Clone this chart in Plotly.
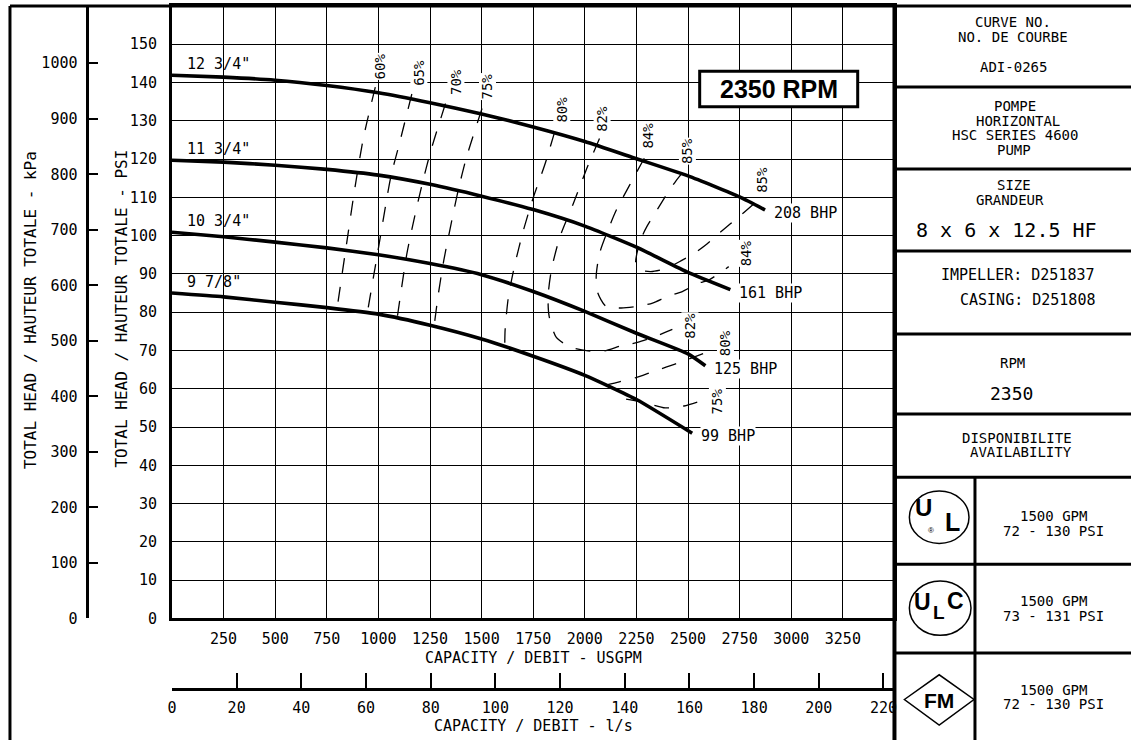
import plotly.graph_objects as go

W, H = 1133, 749
MONO = "DejaVu Sans Mono"
BOLD = "Liberation Sans"

# ---------------- data ----------------
impeller_names = ['12 3/4"', '11 3/4"', '10 3/4"', '9 7/8"']
bhp_labels = ['208 BHP', '161 BHP', '125 BHP', '99 BHP']

gpm_1275 = [0, 250, 500, 750, 1000, 1250, 1500, 1750, 2000, 2250, 2500, 2750, 2873]
psi_1275 = [141.9, 141.4, 140.6, 139.2, 137.3, 134.7, 131.8, 128.4, 124.6, 120.1, 115.6, 110.1, 106.7]

gpm_1175 = [0, 250, 500, 750, 1000, 1250, 1500, 1750, 2000, 2250, 2500, 2705]
psi_1175 = [119.7, 119.2, 118.4, 117.3, 115.8, 113.4, 110.3, 106.8, 102.5, 97.0, 90.4, 85.9]

gpm_1075 = [0, 250, 500, 750, 1000, 1250, 1500, 1750, 2000, 2250, 2500, 2584]
psi_1075 = [100.9, 99.7, 98.3, 96.8, 95.0, 92.7, 89.8, 85.4, 80.2, 74.5, 69.1, 66.0]

gpm_0978 = [0, 250, 500, 750, 1000, 1250, 1500, 1750, 2000, 2250, 2520]
psi_0978 = [85.0, 84.0, 82.6, 81.2, 79.5, 76.6, 73.0, 68.5, 63.5, 57.2, 48.4]

# efficiency iso-lines (GPM, PSI)
eff60_gpm = [985, 927, 884, 847, 799]
eff60_psi = [138.8, 125.4, 111.7, 98.3, 80.7]
eff65_gpm = [1162, 1101, 1060, 1001, 945]
eff65_psi = [137.0, 123.9, 115.3, 97.0, 79.4]
eff70_gpm = [1325, 1253, 1210, 1173, 1138, 1090]
eff70_psi = [134.5, 122.0, 113.0, 104.3, 95.3, 78.1]
eff75_gpm = [1502, 1426, 1386, 1349, 1317, 1290, 1266]
eff75_psi = [133.2, 120.3, 111.7, 102.2, 93.6, 84.6, 74.7]
eff75r_gpm = [2200, 2290, 2390, 2480, 2560]
eff75r_psi = [57.3, 56.4, 55.0, 55.5, 56.8]
eff80_gpm = [1854, 1806, 1750, 1702, 1662, 1630, 1614, 1612]
eff80_psi = [127.1, 118.5, 109.9, 101.3, 92.7, 84.1, 75.5, 71.0]
eff80r_gpm = [2105, 2167, 2247, 2330, 2440, 2608]
eff80r_psi = [61.0, 61.8, 62.9, 64.5, 66.5, 69.9]
eff82_gpm = [2071, 2007, 1943, 1879, 1838, 1822, 1827, 1862, 1935, 2015, 2095, 2175, 2255, 2328, 2424]
eff82_psi = [125.4, 117.2, 108.2, 99.6, 91.0, 84.1, 79.0, 73.4, 70.8, 69.9, 69.9, 71.2, 72.1, 73.4, 75.5]
eff84_gpm = [2288, 2215, 2151, 2111, 2071, 2055, 2063, 2103, 2175, 2255, 2328, 2400, 2472, 2552, 2600, 2697]
eff84_psi = [120.2, 113.0, 106.5, 101.3, 95.3, 89.3, 85.0, 81.5, 81.1, 81.5, 82.4, 84.1, 85.4, 87.6, 88.4, 91.9]
eff85_gpm = [2472, 2440, 2392, 2352, 2303, 2279, 2252, 2247, 2272, 2320, 2392, 2472, 2528, 2593, 2648, 2705, 2761, 2825]
eff85_psi = [116.4, 114.2, 110.4, 106.9, 102.6, 100.0, 95.3, 92.7, 91.0, 90.6, 91.4, 93.6, 95.3, 97.9, 100.5, 103.1, 105.6, 108.6]

# tick labels
gpm_ticks = [250, 500, 750, 1000, 1250, 1500, 1750, 2000, 2250, 2500, 2750, 3000, 3250]
psi_ticks = [0, 10, 20, 30, 40, 50, 60, 70, 80, 90, 100, 110, 120, 130, 140, 150]
kpa_ticks = [0, 100, 200, 300, 400, 500, 600, 700, 800, 900, 1000]
ls_ticks = [0, 20, 40, 60, 80, 100, 120, 140, 160, 180, 200, 220]

GPM_MAX, PSI_MAX, LS_MAX = 3500, 160, 223.4
KPA_PER_PSI = 6.89476
GPM_PER_LS = 15.850

# ---------------- helpers (layout positions in px) ----------------
def px(x):
    return x / W


def py(y):
    return 1 - y / H


fig = go.Figure()
ann = []
shapes = []

curves = [(gpm_1275, psi_1275), (gpm_1175, psi_1175), (gpm_1075, psi_1075), (gpm_0978, psi_0978)]

# efficiency lines: (gpm, psi, label, label ends with pixel shifts)
eff_branches = [
    (eff60_gpm, eff60_psi, '60%', [(0, 5, 21)]),
    (eff65_gpm, eff65_psi, '65%', [(0, 7, 21)]),
    (eff70_gpm, eff70_psi, '70%', [(0, 10, 22)]),
    (eff75_gpm, eff75_psi, '75%', [(0, 5, 22)]),
    (eff75r_gpm, eff75r_psi, '75%', [(-1, 17, 0)]),
    (eff80_gpm, eff80_psi, '80%', [(0, 7, 22)]),
    (eff80r_gpm, eff80r_psi, '80%', [(-1, 15, 8)]),
    (eff82_gpm, eff82_psi, '82%', [(0, 3, 20), (-1, 18, 4)]),
    (eff84_gpm, eff84_psi, '84%', [(0, 4, 23), (-1, 17, 13)]),
    (eff85_gpm, eff85_psi, '85%', [(0, 5, 22), (-1, 7, 23)]),
]
for g, p, lab, ends in eff_branches:
    fig.add_trace(go.Scatter(x=g, y=p, mode='lines', hoverinfo='skip',
                             line=dict(color='black', width=1.3, dash='15px,14px',
                                       shape='spline', smoothing=0.7)))
    for idx, dx, dy in ends:
        ann.append(dict(x=g[idx], y=p[idx], xref='x', yref='y', text=lab, showarrow=False,
                        textangle=-90, xanchor='center', yanchor='middle', xshift=dx, yshift=dy,
                        bgcolor='white', borderpad=0,
                        font=dict(family=MONO, size=14, color='black')))

for (g, p), name, bhp in zip(curves, impeller_names, bhp_labels):
    fig.add_trace(go.Scatter(x=g, y=p, mode='lines', hoverinfo='skip',
                             line=dict(color='black', width=3.6, shape='spline', smoothing=0.5)))
    ann.append(dict(x=g[0], y=p[0], xref='x', yref='y', text=name, showarrow=False,
                    xanchor='left', yanchor='middle', xshift=13, yshift=11,
                    font=dict(family=MONO, size=15, color='black')))
    ann.append(dict(x=g[-1], y=p[-1], xref='x', yref='y', text=bhp, showarrow=False,
                    xanchor='left', yanchor='middle', xshift=8, yshift=-3,
                    bgcolor='white', borderpad=0,
                    font=dict(family=MONO, size=15, color='black')))

# invisible companions that carry the secondary (kPa, l/s) scales
fig.add_trace(go.Scatter(x=gpm_1275, y=[v * KPA_PER_PSI for v in psi_1275], xaxis='x', yaxis='y2',
                         mode='lines', opacity=0, hoverinfo='skip', line=dict(width=0)))
fig.add_trace(go.Scatter(x=[v / GPM_PER_LS for v in gpm_1275], y=psi_1275, xaxis='x2', yaxis='y',
                         mode='lines', opacity=0, hoverinfo='skip', line=dict(width=0)))

tickfont = dict(family=MONO, size=15, color='black')

# ---------------- frame & title block ----------------
LW = 3


def hline(y, x0, x1, w=LW):
    shapes.append(dict(type='line', xref='paper', yref='paper', x0=px(x0), x1=px(x1),
                       y0=py(y), y1=py(y), line=dict(color='black', width=w)))


def vline(x, y0, y1, w=LW):
    shapes.append(dict(type='line', xref='paper', yref='paper', x0=px(x), x1=px(x),
                       y0=py(y0), y1=py(y1), line=dict(color='black', width=w)))


def text(t, x, y, size, family=MONO, xa='center', ya='middle', angle=0):
    ann.append(dict(x=px(x), y=py(y), xref='paper', yref='paper', text=t, showarrow=False,
                    xanchor=xa, yanchor=ya, textangle=angle,
                    font=dict(family=family, size=size, color='black')))


hline(6, 5, W)
vline(5, 6, H)
vline(895, 6, H, 4)
for yy in [88, 171, 254, 338, 419, 483, 571, 661]:
    hline(yy, 895, W)
vline(976, 483, H)

# RPM box
shapes.append(dict(type='rect', xref='paper', yref='paper', x0=px(699), x1=px(858),
                   y0=py(108), y1=py(72), line=dict(color='black', width=3), fillcolor='white'))
text('<b>2350 RPM</b>', 778.5, 90.5, 25, BOLD)

# logos
shapes.append(dict(type='circle', xref='paper', yref='paper', x0=px(910), x1=px(970),
                   y0=py(550), y1=py(497), line=dict(color='black', width=1.5)))
shapes.append(dict(type='circle', xref='paper', yref='paper', x0=px(910), x1=px(972),
                   y0=py(643), y1=py(588), line=dict(color='black', width=1.5)))
dpath = 'M {} {} L {} {} L {} {} L {} {} Z'.format(px(905), py(708), px(940), py(683),
                                                   px(975), py(708), px(940), py(734))
shapes.append(dict(type='path', xref='paper', yref='paper', path=dpath,
                   line=dict(color='black', width=1.5)))

logo_text = [
    ('<b>U</b>', 924, 514, 24), ('<b>L</b>', 953, 528, 25), ('®', 932, 537, 8),
    ('<b>U</b>', 923, 609, 23), ('<b>L</b>', 940, 620, 19), ('<b>C</b>', 956, 608, 23),
    ('<b>FM</b>', 940, 709, 21),
]
for t, x, y, s in logo_text:
    text(t, x, y, s, BOLD)

panel_text = [
    ('CURVE NO.', 1014, 22, 14, 'center'), ('NO. DE COURBE', 1014, 37, 14, 'center'),
    ('ADI-0265', 1015, 68, 14, 'center'),
    ('POMPE', 1016, 107, 14, 'center'), ('HORIZONTAL', 1019, 122, 14, 'center'),
    ('HSC SERIES 4600', 1016, 137, 14, 'center'), ('PUMP', 1015, 152, 14, 'center'),
    ('SIZE', 1015, 187, 14, 'center'), ('GRANDEUR', 1011, 202, 14, 'center'),
    ('8 x 6 x 12.5 HF', 1008, 233, 20, 'center'),
    ('IMPELLER: D251837', 1099, 278, 15, 'right'), ('CASING: D251808', 1099, 304, 15, 'right'),
    ('RPM', 1014, 367, 14, 'center'), ('2350', 1013, 398, 18, 'center'),
    ('DISPONIBILITE', 1018, 443, 14, 'center'), ('AVAILABILITY', 1022, 458, 14, 'center'),
    ('1500 GPM', 1055, 522, 14, 'center'), ('72 - 130 PSI', 1055, 537, 14, 'center'),
    ('1500 GPM', 1055, 608, 14, 'center'), ('73 - 131 PSI', 1055, 623, 14, 'center'),
    ('1500 GPM', 1055, 698, 14, 'center'), ('72 - 130 PSI', 1055, 713, 14, 'center'),
]
for t, x, y, s, xa in panel_text:
    text(t, x, y, s, MONO, xa)

# axis titles
text('CAPACITY / DEBIT - USGPM', 531.5, 666, 15)
text('CAPACITY / DEBIT - l/s', 531.5, 735, 15)
text('TOTAL HEAD / HAUTEUR TOTALE - PSI', 117, 312, 16, angle=-90)
text('TOTAL HEAD / HAUTEUR TOTALE - kPa', 25, 314, 16, angle=-90)

fig.update_layout(
    width=W, height=H, margin=dict(l=0, r=0, t=0, b=0),
    paper_bgcolor='white', plot_bgcolor='white', showlegend=False,
    xaxis=dict(domain=[px(168), px(895)], range=[0, GPM_MAX], tickvals=gpm_ticks,
               showgrid=True, gridcolor='black', gridwidth=1.2, zeroline=False,
               showline=True, linecolor='black', linewidth=3, mirror=True, ticks='',
               ticklabelstandoff=5, tickfont=tickfont),
    yaxis=dict(domain=[py(626), py(6)], range=[0, PSI_MAX], tickvals=psi_ticks,
               showgrid=True, gridcolor='black', gridwidth=1.2, zeroline=False,
               showline=True, linecolor='black', linewidth=3, mirror=True, ticks='',
               ticklabelstandoff=9, tickfont=tickfont),
    yaxis2=dict(overlaying='y', anchor='free', position=px(83), side='left',
                range=[0, PSI_MAX * KPA_PER_PSI], tickvals=kpa_ticks, showgrid=False,
                zeroline=False, showline=True, linecolor='black', linewidth=3,
                ticks='inside', ticklen=9, tickwidth=1.5, tickcolor='black',
                ticklabelstandoff=6, tickfont=tickfont),
    xaxis2=dict(overlaying='x', anchor='free', position=py(697), side='bottom',
                range=[0, LS_MAX], tickvals=ls_ticks, showgrid=False, zeroline=False,
                showline=True, linecolor='black', linewidth=3,
                ticks='inside', ticklen=15, tickwidth=1.5, tickcolor='black',
                ticklabelstandoff=4, tickfont=tickfont),
    annotations=ann, shapes=shapes,
)

fig.write_html("out.html", config={'displayModeBar': False},
               post_script="document.body.style.margin='0px';")
